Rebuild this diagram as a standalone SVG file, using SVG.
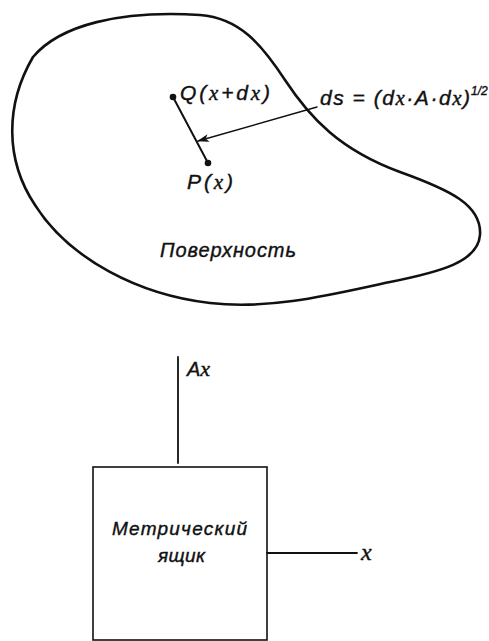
<svg xmlns="http://www.w3.org/2000/svg" width="489" height="641" viewBox="0 0 489 641">
<defs>
<style>
.t{font-family:"Liberation Sans","DejaVu Sans",sans-serif;font-style:italic;fill:#111;stroke:#111;stroke-width:0.4}
.m{font-family:"Liberation Serif","DejaVu Serif",serif;font-style:italic}
.ln{stroke:#111;fill:none;stroke-linecap:round}
</style>
<marker id="ah" viewBox="0 0 12 8" refX="11" refY="4" markerWidth="12" markerHeight="8" markerUnits="userSpaceOnUse" orient="auto">
<path d="M0,0 L12,4 L0,8 L3,4 Z" fill="#111"/>
</marker>
</defs>
<rect width="489" height="641" fill="#fff"/>
<g id="surface">
<path class="ln" stroke-width="2.6" d="M200,15 C240,18 262,45 285,80 C310,118 340,150 400,172 C450,190 482,205 480,235 C478,262 440,272 390,282 C330,295 270,310 210,303 C140,295 70,260 35,205 C5,160 5,105 33,57 C60,25 120,10 200,15 Z"/>
<text class="t" x="160" y="257" font-size="20" textLength="136" lengthAdjust="spacing">Поверхность</text>
</g>
<g id="Q">
<circle cx="173" cy="97" r="3.3" fill="#111"/>
<text class="t" x="180" y="100" font-size="21" textLength="90" lengthAdjust="spacing">Q(<tspan class="m">x</tspan>+d<tspan class="m">x</tspan>)</text>
</g>
<g id="P">
<circle cx="208" cy="163" r="3.3" fill="#111"/>
<text class="t" x="187" y="189" font-size="21" textLength="46" lengthAdjust="spacing">P(<tspan class="m">x</tspan>)</text>
</g>
<g id="ds-label">
<text class="t" x="320" y="105" font-size="21" textLength="150" lengthAdjust="spacing">ds = (d<tspan class="m">x</tspan>·A·d<tspan class="m">x</tspan>)</text>
<text class="t" x="471" y="95" font-size="12">1/2</text>
</g>
<g id="box">
<rect x="93" y="467" width="174" height="173" class="ln" stroke-width="1.6"/>
<text class="t" x="112" y="535" font-size="19" textLength="135" lengthAdjust="spacing">Метрический</text>
<text class="t" x="158" y="562" font-size="19" textLength="47" lengthAdjust="spacing">ящик</text>
</g>
<g id="Ax-label"><text class="t" x="187" y="376" font-size="20">A<tspan class="m" font-size="22">x</tspan></text></g>
<g id="x-label"><text class="t m" x="361" y="560" font-size="24">x</text></g>
<g id="connectors">
<line class="ln" x1="173" y1="97" x2="208" y2="163" stroke-width="2"/>
<line class="ln" x1="317" y1="107" x2="198" y2="141" stroke-width="1.4" marker-end="url(#ah)"/>
<line class="ln" x1="178" y1="357" x2="178" y2="463" stroke-width="1.8"/>
<line class="ln" x1="267" y1="553" x2="357" y2="553" stroke-width="1.8"/>
</g>
</svg>
